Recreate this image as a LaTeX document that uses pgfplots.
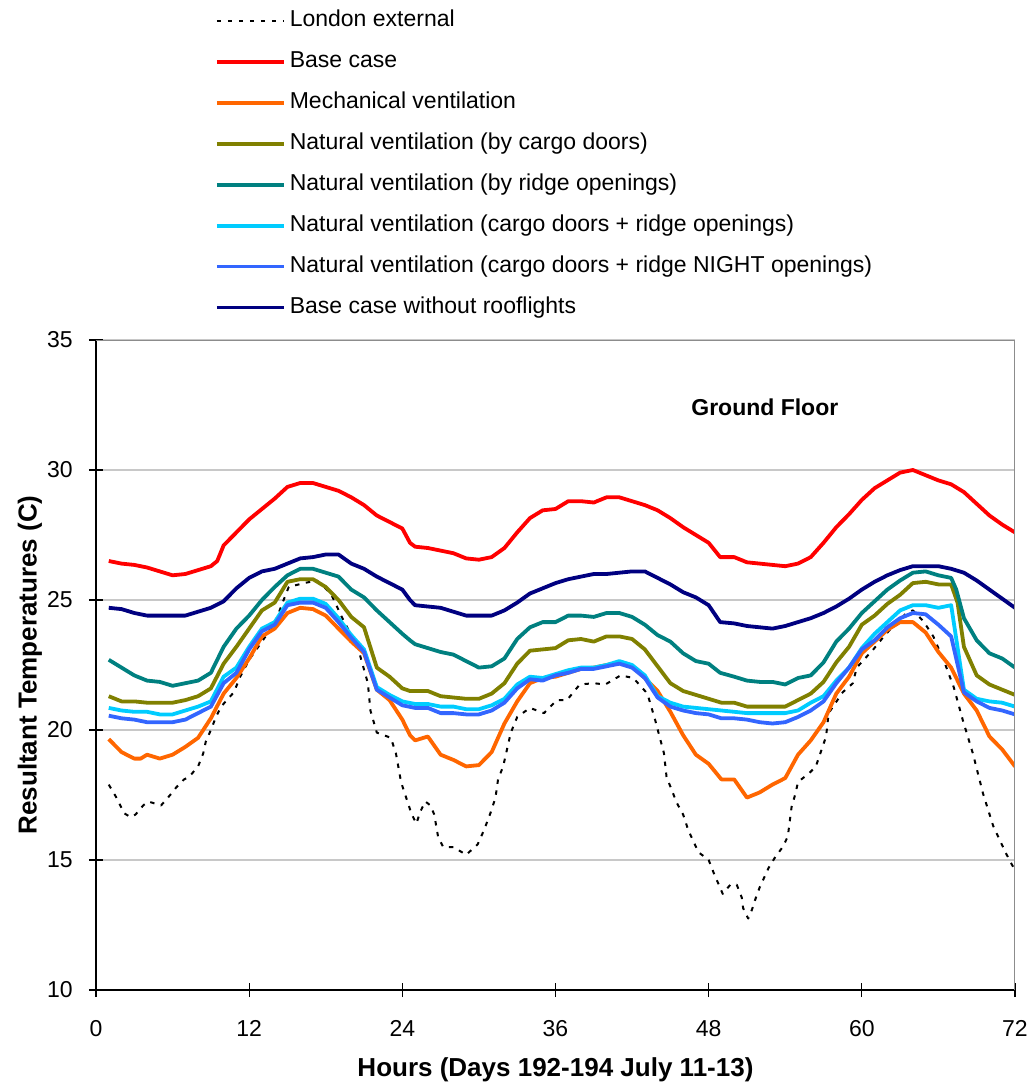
\documentclass[border=0pt]{standalone}
\usepackage{pgfplots}
\pgfplotsset{compat=1.18}
\usepackage{fontspec}
\setmainfont{Liberation Sans}
\definecolor{cRed}{HTML}{FF0000}
\definecolor{cOrange}{HTML}{FF6600}
\definecolor{cOlive}{HTML}{808000}
\definecolor{cTeal}{HTML}{008080}
\definecolor{cCyan}{HTML}{00CCFF}
\definecolor{cBlue}{HTML}{3366FF}
\definecolor{cNavy}{HTML}{000080}
\definecolor{gridgray}{HTML}{C8C8C8}
\definecolor{bordergray}{HTML}{8C8C8C}
\begin{document}
\begin{tikzpicture}
\useasboundingbox (-48pt,-47pt) rectangle (468.5pt,495pt);
\begin{axis}[
  at={(0,0)}, anchor=south west,
  scale only axis, width=459.5pt, height=325pt,
  xmin=0, xmax=72, ymin=10, ymax=35,
  xtick={0,12,...,72}, ytick={10,15,...,35},
  axis x line*=bottom, axis y line*=left,
  axis line style={line width=0.8pt, black, -},
  tick align=center, major tick length=7pt,
  tick style={black, line width=0.6pt},
  ymajorgrids, grid style={color=gridgray, line width=0.6pt},
  ticklabel style={font=\fontsize{11.5}{13}\selectfont},
  /pgf/number format/assume math mode=true,
  yticklabel style={inner sep=0pt, anchor=east, xshift=-8pt},
  xticklabel style={inner sep=0pt, anchor=north, yshift=-11.5pt},
  xlabel={Hours (Days 192-194 July 11-13)},
  ylabel={Resultant Temperatures (C)},
  label style={font=\bfseries\fontsize{13}{15}\selectfont},
  xlabel style={at={(axis description cs:0.5,-0.123)}, anchor=center},
  ylabel style={at={(axis description cs:-0.072,0.5)}, anchor=center},
  legend cell align=left,
  legend image code/.code={\draw[#1] (0pt,0pt) -- (33.5pt,0pt);},
  legend style={at={(axis description cs:0.1295,1.5078)}, anchor=north west,
    draw=none, fill=none, inner sep=0pt, outer sep=0pt, row sep=9.47pt,
    font=\fontsize{11.5}{13}\selectfont,
    nodes={inner sep=0pt, text height=8.5pt, text depth=2.5pt},
    /tikz/every odd column/.append style={column sep=2pt}},
  every axis plot/.append style={line width=1.9pt, line join=round},
]
% London external
\addplot[black, line width=1pt, dash pattern=on 2.2pt off 3.3pt] coordinates {
(1,17.9)(1.6,17.4)(2.2,16.8)(2.7,16.65)(3.1,16.75)(3.7,17.1)(4.1,17.25)(5.1,17.1)
(5.9,17.55)(6.3,17.8)(6.9,18.1)(7.3,18.2)(8.0,18.6)(8.4,19.1)(8.6,19.55)(9.0,20.0)
(9.4,20.5)(9.8,20.9)(10.8,21.45)(11.3,22.05)(12,22.7)(13,23.4)(14,24.1)(14.7,25.0)
(15.1,25.5)(16.3,25.65)(17.3,25.75)(18.4,25.25)(19.4,24.2)(20.5,23.2)(21.3,21.8)
(21.5,20.75)(22.0,19.9)(23.1,19.7)(23.5,19.1)(23.9,18.0)(24.3,17.4)(24.7,16.8)
(25.1,16.4)(25.4,16.85)(25.8,17.25)(26.2,17.1)(26.5,16.75)(26.8,15.9)(27.2,15.5)
(28.0,15.5)(29.0,15.2)(29.9,15.6)(30.4,16.15)(30.9,16.8)(31.3,17.4)(31.5,18.1)
(31.9,18.6)(32.5,19.9)(33.0,20.5)(34.0,20.85)(35.1,20.65)(36.1,21.15)(36.9,21.15)
(37.9,21.75)(39.0,21.8)(39.9,21.75)(41.1,22.1)(42.1,22.0)(43.2,21.4)(43.8,20.4)
(44.5,19.1)(44.7,18.2)(45.5,17.2)(46.0,16.75)(46.4,16.15)(47.2,15.3)(48.0,15.0)
(48.4,14.5)(49.1,13.7)(49.7,14.05)(50.2,14.05)(50.6,13.55)(50.7,13.15)(51.1,12.75)
(51.4,13.1)(51.7,13.55)(52.0,13.95)(52.7,14.7)(53.2,15.1)(53.8,15.5)(54.2,15.9)
(54.5,17.05)(54.8,17.55)(55.0,18.0)(55.9,18.35)(56.4,18.6)(57.2,19.75)(57.4,20.65)
(58.5,21.45)(59.3,21.8)(59.6,22.4)(60.9,23.1)(61.9,23.7)(63.5,24.5)(64.0,24.6)
(64.8,24.2)(65.6,23.6)(66.4,22.7)(67.2,21.65)(67.9,20.4)(68.7,19.1)(69.5,17.55)
(70.3,16.3)(71.3,15.25)(72,14.6)};
\addlegendentry{London external}
% Base case
\addplot[cRed] coordinates {
(1,26.5)(2,26.4)(3,26.35)(4,26.25)(5,26.1)(6,25.95)(7,26.0)(8,26.15)(9,26.3)(9.5,26.5)
(10,27.1)(11,27.6)(12,28.1)(13,28.5)(14,28.9)(15,29.35)(16,29.5)(17,29.5)(18,29.35)
(19,29.2)(20,28.95)(21,28.65)(22,28.25)(23,28.0)(24,27.75)(24.6,27.2)(25,27.05)(26,27.0)
(27,26.9)(28,26.8)(29,26.6)(30,26.55)(31,26.65)(32,27.0)(33,27.6)(34,28.15)(35,28.45)
(36,28.5)(37,28.8)(38,28.8)(39,28.75)(40,28.95)(41,28.95)(42,28.8)(43,28.65)(44,28.45)
(45,28.15)(46,27.8)(47,27.5)(48,27.2)(48.9,26.65)(50,26.65)(51,26.45)(52,26.4)(53,26.35)
(54,26.3)(55,26.4)(56,26.65)(57,27.2)(58,27.8)(59,28.3)(60,28.85)(61,29.3)(62,29.6)
(63,29.9)(64,30.0)(65,29.8)(66,29.6)(67,29.45)(68,29.15)(69,28.7)(70,28.25)(71,27.9)(72,27.6)};
\addlegendentry{Base case}
% Mechanical ventilation
\addplot[cOrange] coordinates {
(1,19.65)(2,19.15)(3,18.9)(3.5,18.9)(4,19.05)(5,18.9)(6,19.05)(7,19.35)(8,19.7)(9,20.45)
(10,21.4)(11,22.0)(12,22.75)(13,23.6)(14,23.9)(15,24.5)(16,24.7)(17,24.65)(18,24.4)
(19,23.9)(20,23.4)(21,22.95)(22,21.55)(23,21.15)(24,20.4)(24.6,19.8)(25,19.6)(26,19.75)
(27,19.05)(28,18.85)(29,18.6)(30,18.65)(31,19.15)(32,20.25)(33,21.1)(34,21.8)(35,22.0)
(36,22.05)(37,22.2)(38,22.35)(39,22.4)(40,22.5)(41,22.6)(42,22.45)(43,22.0)(44,21.5)
(45,20.7)(46,19.8)(47,19.05)(48,18.7)(49,18.1)(50,18.1)(51,17.4)(52,17.6)(53,17.9)
(54,18.15)(55,19.05)(56,19.6)(57,20.3)(58,21.4)(59,22.05)(60,22.95)(61,23.4)(62,23.85)
(63,24.15)(64,24.15)(65,23.75)(66,23.0)(67,22.4)(68,21.4)(69,20.75)(70,19.75)(71,19.25)(72,18.6)};
\addlegendentry{Mechanical ventilation}
% Natural ventilation (by cargo doors)
\addplot[cOlive] coordinates {
(1,21.3)(2,21.1)(3,21.1)(4,21.05)(5,21.05)(6,21.05)(7,21.15)(8,21.3)(9,21.6)(10,22.55)
(11,23.2)(12,23.9)(13,24.6)(14,24.9)(15,25.7)(16,25.8)(17,25.8)(18,25.5)(19,25.0)
(20,24.35)(21,23.95)(22,22.4)(23,22.05)(24,21.6)(24.6,21.5)(25,21.5)(26,21.5)(27,21.3)
(28,21.25)(29,21.2)(30,21.2)(31,21.4)(32,21.8)(33,22.55)(34,23.05)(35,23.1)(36,23.15)
(37,23.45)(38,23.5)(39,23.4)(40,23.6)(41,23.6)(42,23.5)(43,23.1)(44,22.45)(45,21.8)
(46,21.5)(47,21.35)(48,21.2)(49,21.05)(50,21.05)(51,20.9)(52,20.9)(53,20.9)(54,20.9)
(55,21.15)(56,21.4)(57,21.85)(58,22.6)(59,23.2)(60,24.05)(61,24.4)(62,24.85)(63,25.2)
(64,25.65)(65,25.7)(66,25.6)(67,25.6)(67.5,24.9)(68,23.2)(69,22.1)(70,21.75)(71,21.55)(72,21.35)};
\addlegendentry{Natural ventilation (by cargo doors)}
% Natural ventilation (by ridge openings)
\addplot[cTeal] coordinates {
(1,22.7)(2,22.4)(3,22.1)(4,21.9)(5,21.85)(6,21.7)(7,21.8)(8,21.9)(9,22.2)(10,23.2)
(11,23.9)(12,24.4)(13,25.0)(14,25.5)(15,25.95)(16,26.2)(17,26.2)(18,26.05)(19,25.9)
(20,25.4)(21,25.1)(22,24.6)(23,24.15)(24,23.7)(24.6,23.45)(25,23.3)(26,23.15)(27,23.0)
(28,22.9)(29,22.65)(30,22.4)(31,22.45)(32,22.75)(33,23.5)(34,23.95)(35,24.15)(36,24.15)
(37,24.4)(38,24.4)(39,24.35)(40,24.5)(41,24.5)(42,24.35)(43,24.05)(44,23.65)(45,23.4)
(46,22.95)(47,22.65)(48,22.55)(48.9,22.2)(50,22.05)(51,21.9)(52,21.85)(53,21.85)
(54,21.75)(55,22.0)(56,22.1)(57,22.6)(58,23.4)(59,23.9)(60,24.5)(61,24.95)(62,25.4)
(63,25.75)(64,26.05)(65,26.1)(66,25.95)(67,25.85)(67.4,25.4)(68,24.3)(69,23.45)(70,22.95)
(71,22.75)(72,22.4)};
\addlegendentry{Natural ventilation (by ridge openings)}
% Natural ventilation (cargo doors + ridge openings)
\addplot[cCyan] coordinates {
(1,20.85)(2,20.75)(3,20.7)(4,20.7)(5,20.6)(6,20.6)(7,20.75)(8,20.9)(9,21.1)(10,22.05)
(11,22.4)(12,23.2)(13,23.9)(14,24.15)(15,24.9)(16,25.05)(17,25.05)(18,24.85)(19,24.3)
(20,23.65)(21,23.1)(22,21.65)(23,21.35)(24,21.1)(25,21.0)(26,21.0)(27,20.9)(28,20.9)
(29,20.8)(30,20.8)(31,20.95)(32,21.2)(33,21.75)(34,22.05)(35,22.0)(36,22.15)(37,22.3)
(38,22.4)(39,22.4)(40,22.5)(41,22.65)(42,22.5)(43,22.1)(44,21.3)(45,21.05)(46,20.9)
(47,20.85)(48,20.8)(49,20.75)(50,20.7)(51,20.65)(52,20.65)(53,20.65)(54,20.65)
(55,20.75)(56,21.05)(57,21.3)(58,21.9)(59,22.4)(60,23.15)(61,23.7)(62,24.15)(63,24.6)
(64,24.8)(65,24.8)(66,24.7)(67,24.8)(68,21.55)(69,21.2)(70,21.1)(71,21.05)(72,20.9)};
\addlegendentry{Natural ventilation (cargo doors + ridge openings)}
% Natural ventilation (cargo doors + ridge NIGHT openings)
\addplot[cBlue] coordinates {
(1,20.55)(2,20.45)(3,20.4)(4,20.3)(5,20.3)(6,20.3)(7,20.4)(8,20.65)(9,20.9)(10,21.8)
(11,22.2)(12,23.1)(13,23.8)(14,24.05)(15,24.8)(16,24.9)(17,24.9)(18,24.7)(19,24.15)
(20,23.55)(21,23.0)(22,21.55)(23,21.25)(24,20.95)(25,20.85)(26,20.85)(27,20.65)(28,20.65)
(29,20.6)(30,20.6)(31,20.75)(32,21.05)(33,21.6)(34,21.95)(35,21.9)(36,22.1)(37,22.2)
(38,22.35)(39,22.35)(40,22.45)(41,22.55)(42,22.4)(43,22.0)(44,21.25)(45,20.9)(46,20.75)
(47,20.65)(48,20.6)(49,20.45)(50,20.45)(51,20.4)(52,20.3)(53,20.25)(54,20.3)(55,20.5)
(56,20.75)(57,21.1)(58,21.8)(59,22.4)(60,23.1)(61,23.45)(62,23.95)(63,24.3)(64,24.5)
(65,24.45)(66,24.05)(67,23.6)(68,21.45)(69,21.1)(70,20.85)(71,20.75)(72,20.6)};
\addlegendentry{Natural ventilation (cargo doors + ridge NIGHT openings)}
% Base case without rooflights
\addplot[cNavy] coordinates {
(1,24.7)(2,24.65)(3,24.5)(4,24.4)(5,24.4)(6,24.4)(7,24.4)(8,24.55)(9,24.7)(10,24.95)
(11,25.45)(12,25.85)(13,26.1)(14,26.2)(15,26.4)(16,26.6)(17,26.65)(18,26.75)(19,26.75)
(20,26.4)(21,26.2)(22,25.9)(23,25.65)(24,25.4)(24.6,25.0)(25,24.8)(26,24.75)(27,24.7)
(28,24.55)(29,24.4)(30,24.4)(31,24.4)(32,24.6)(33,24.9)(34,25.25)(35,25.45)(36,25.65)
(37,25.8)(38,25.9)(39,26.0)(40,26.0)(41,26.05)(42,26.1)(43,26.1)(44,25.85)(45,25.6)
(46,25.3)(47,25.1)(48,24.8)(48.9,24.15)(50,24.1)(51,24.0)(52,23.95)(53,23.9)(54,24.0)
(55,24.15)(56,24.3)(57,24.5)(58,24.75)(59,25.05)(60,25.4)(61,25.7)(62,25.95)(63,26.15)
(64,26.3)(65,26.3)(66,26.3)(67,26.2)(68,26.05)(69,25.75)(70,25.4)(71,25.05)(72,24.7)};
\addlegendentry{Base case without rooflights}
\draw[bordergray, line width=0.8pt] (rel axis cs:0,1) -- (rel axis cs:1,1) -- (rel axis cs:1,0);
\node[font=\bfseries\fontsize{11.5}{13}\selectfont] at (axis cs:52.4,32.42) {Ground Floor};
\end{axis}
\end{tikzpicture}
\end{document}
